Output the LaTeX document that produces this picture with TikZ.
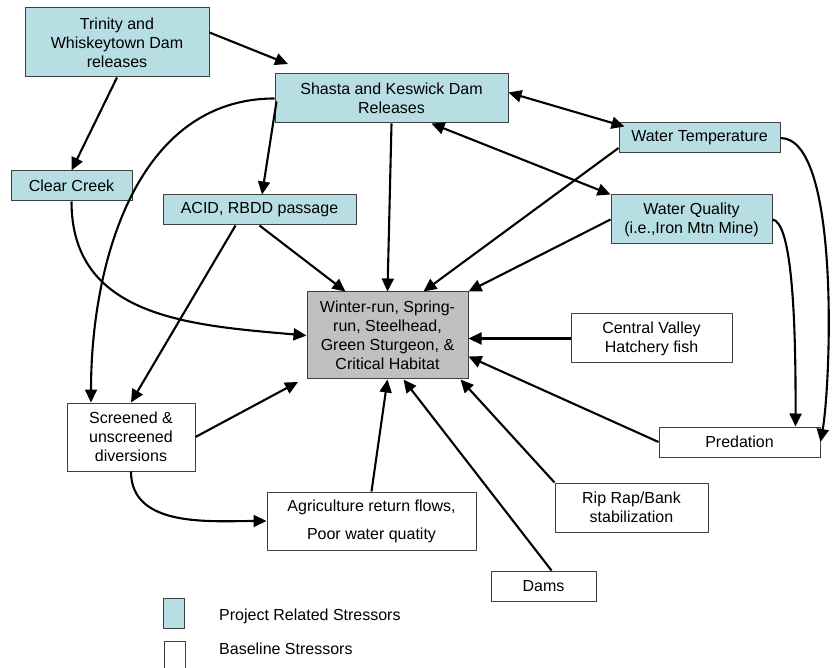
\documentclass[tikz,border=0pt]{standalone}
\usepackage{fontspec}
\setmainfont{Liberation Sans}
\usetikzlibrary{arrows.meta}

\definecolor{projblue}{RGB}{183,222,226}
\definecolor{focusgray}{RGB}{192,192,192}
\definecolor{edgegray}{RGB}{64,64,64}

\begin{document}
\begin{tikzpicture}[x=1pt,y=-1pt,
  stressbox/.style={draw=edgegray, line width=1pt, align=center, inner sep=0pt,
    font=\fontsize{16}{19}\selectfont},
  projbox/.style={stressbox, fill=projblue},
  basebox/.style={stressbox, fill=white},
  link/.style={line width=2.1pt, -{Triangle[length=13pt,width=12pt]}},
  twoway/.style={line width=2.1pt, {Triangle[length=13pt,width=12pt]}-{Triangle[length=13pt,width=12pt]}},
  legtext/.style={anchor=west, inner sep=0pt, font=\fontsize{16}{19}\selectfont}]

  \useasboundingbox (0, 0) rectangle (833, 668);

  % Project related stressors
  \node[projbox, minimum width=184, minimum height=69] (trin) at (117, 42.5)
    {Trinity and\\Whiskeytown Dam\\releases};
  \node[projbox, minimum width=233, minimum height=49] (sha) at (391.5, 98.5)
    {Shasta and Keswick Dam\\Releases};
  \node[projbox, minimum width=121, minimum height=30] (cc) at (71.5, 186) {Clear Creek};
  \node[projbox, minimum width=193, minimum height=30] (acid) at (259.5, 210) {ACID, RBDD passage};
  \node[projbox, minimum width=161, minimum height=30] (wt) at (699.5, 138) {Water Temperature};
  \node[projbox, minimum width=161, minimum height=49] (wq) at (691.5, 219.5)
    {Water Quality\\(i.e.,Iron Mtn Mine)};

  % Species and habitat
  \node[stressbox, fill=focusgray, minimum width=161, minimum height=87] (main) at (387.5, 335.5)
    {Winter-run, Spring-\\run, Steelhead,\\Green Sturgeon, \&\\Critical Habitat};

  % Baseline stressors
  \node[basebox, minimum width=161, minimum height=49] (cv) at (651.5, 338.5)
    {Central Valley\\Hatchery fish};
  \node[basebox, minimum width=161, minimum height=30] (pred) at (739.5, 442) {Predation};
  \node[basebox, minimum width=153, minimum height=49] (rip) at (631.5, 507.5)
    {Rip Rap/Bank\\stabilization};
  \node[basebox, minimum width=105, minimum height=30] (dams) at (543.5, 586) {Dams};
  \node[basebox, minimum width=209, minimum height=58] (agri) at (371.5, 521)
    {Agriculture return flows,\\[9pt]Poor water quatity};
  \node[basebox, minimum width=128, minimum height=68] (scr) at (131, 437)
    {Screened \&\\unscreened\\diversions};

  % Free arrow ends
  \coordinate (shaTip) at (288, 64);
  \coordinate (scrTip) at (298, 382);

  % Connectors
  \draw[link] ([yshift=10pt]trin.east) -- (shaTip);
  \draw[link] (trin.south) -- (cc.north);
  \draw[link] ([xshift=2pt, yshift=-3pt]sha.west) -- ([xshift=2.5pt]acid.north);
  \draw[link] (sha.west) to[out=180, in=90] ([xshift=-40pt]scr.north);
  \draw[link] (sha.south) -- (main.north);
  \draw[link] (cc.south) to[out=-90, in=175, looseness=1.1] (main.west);
  \draw[link] (acid.south) -- ([xshift=-42pt]main.north);
  \draw[link] ([xshift=-24pt]acid.south) -- (scr.north);
  \draw[twoway] ([yshift=6pt]sha.east) -- ([xshift=6pt, yshift=-4pt]wt.north west);
  \draw[twoway] ([xshift=40pt]sha.south) -- (wq.north west);
  \draw[link] ([yshift=-10pt]wt.west) -- ([xshift=36pt]main.north);
  \draw[link] (wq.west) -- (main.north east);
  \draw[link] (wt.east) to[out=0, in=80, looseness=0.5] (pred.east);
  \draw[link] (wq.east) .. controls (790, 222) and (796, 300) .. ([xshift=56pt]pred.north);
  \draw[link] (cv.west) -- (main.east |- cv.west);
  \draw[link] (pred.west) -- ([yshift=-21pt]main.east);
  \draw[link] (rip.north west) -- ([xshift=-8pt]main.south east);
  \draw[link] ([xshift=8pt]dams.north) -- ([xshift=16pt]main.south);
  \draw[link] (agri.north) -- (main.south);
  \draw[link] (scr.east) -- (scrTip);
  \draw[link] (scr.south) to[out=-90, in=180] (agri.west);

  % Legend
  \draw[edgegray, line width=1pt, fill=projblue] (163, 598) rectangle (184, 628);
  \draw[edgegray, line width=1pt] (164, 672) |- (185, 641) -- (185, 672);
  \node[legtext] (legproj) at (219, 616) {Project Related Stressors};
  \node[legtext] (legbase) at (219, 649) {Baseline Stressors};

\end{tikzpicture}
\end{document}
